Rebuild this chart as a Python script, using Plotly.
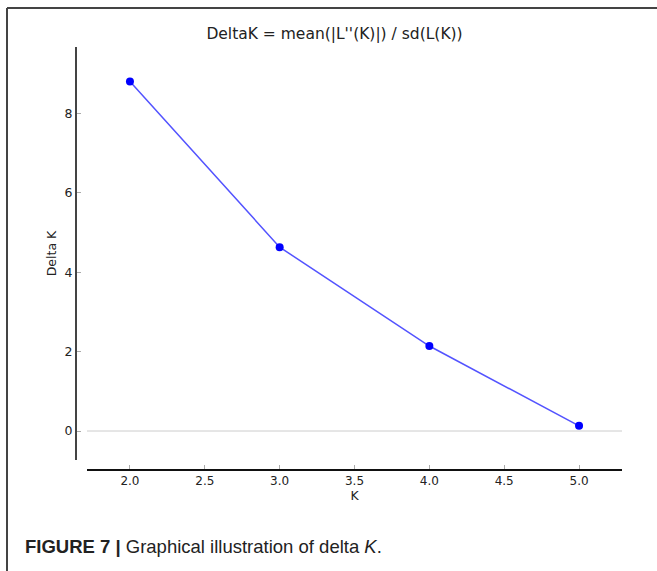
import plotly.graph_objects as go

# Data
k_values = [2, 3, 4, 5]
delta_k = [8.80, 4.63, 2.14, 0.13]
x_tick_vals = [2.0, 2.5, 3.0, 3.5, 4.0, 4.5, 5.0]
x_tick_text = ["2.0", "2.5", "3.0", "3.5", "4.0", "4.5", "5.0"]
y_tick_vals = [0, 2, 4, 6, 8]
y_tick_text = ["0", "2", "4", "6", "8"]

W, H = 657, 571
L, R, T, B = 76, 35, 47, 101
pw = W - L - R
ph = H - T - B

def px_x(x):
    return (x - L) / pw

def px_y(y):
    return (H - B - y) / ph

fig = go.Figure()

fig.add_trace(go.Scatter(
    x=k_values, y=delta_k, mode="lines",
    line=dict(color="rgba(40,40,255,0.8)", width=1.5),
    hoverinfo="skip", showlegend=False,
))
fig.add_trace(go.Scatter(
    x=k_values, y=delta_k, mode="markers",
    marker=dict(color="#0000ff", size=8),
    showlegend=False,
))

fig.add_shape(type="line", xref="x domain", yref="y", x0=0, x1=1, y0=0, y1=0,
              line=dict(color="#cccccc", width=1), layer="below")

# frame
fig.add_shape(type="line", xref="paper", yref="paper",
              x0=px_x(7), x1=px_x(W + 5), y0=px_y(8), y1=px_y(8),
              line=dict(color="#444444", width=2))
fig.add_shape(type="line", xref="paper", yref="paper",
              x0=px_x(7), x1=px_x(7), y0=px_y(8), y1=px_y(H + 5),
              line=dict(color="#444444", width=2))

font_axes = "DejaVu Sans"

fig.update_layout(
    width=W, height=H,
    margin=dict(l=L, r=R, t=T, b=B),
    paper_bgcolor="white", plot_bgcolor="white",
    title=dict(text="DeltaK = mean(|L''(K)|) / sd(L(K))",
               x=px_x(354), xanchor="center", y=1 - 34 / H, yanchor="middle",
               font=dict(family=font_axes, size=15.5, color="#222222")),
    xaxis=dict(
        range=[1.713, 5.287], domain=[px_x(87), px_x(622)],
        anchor="free", position=0,
        showline=True, linecolor="#111111", linewidth=2,
        showgrid=False, zeroline=False,
        tickmode="array", tickvals=x_tick_vals, ticktext=x_tick_text,
        ticks="inside", ticklen=4, tickcolor="#aaaaaa", tickwidth=1,
        tickfont=dict(family=font_axes, size=12, color="#222222"),
        title=dict(text="K", standoff=2, font=dict(family=font_axes, size=12.5, color="#222222")),
    ),
    yaxis=dict(
        range=[-0.73, 9.67], domain=[px_y(460), 1],
        anchor="free", position=0,
        showline=True, linecolor="#444444", linewidth=2,
        showgrid=False, zeroline=False,
        tickmode="array", tickvals=y_tick_vals, ticktext=y_tick_text,
        ticks="inside", ticklen=4, tickcolor="#aaaaaa", tickwidth=1,
        tickfont=dict(family=font_axes, size=12.5, color="#222222"),
        title=dict(text="Delta K", standoff=4, font=dict(family=font_axes, size=12.5, color="#222222")),
    ),
)

fig.add_annotation(
    xref="paper", yref="paper", x=px_x(23), y=px_y(546),
    xanchor="left", yanchor="middle", showarrow=False,
    text="<b>FIGURE 7 |</b> Graphical illustration of delta <i>K</i>.",
    font=dict(family="Liberation Sans", size=18.5, color="#222222"),
)

fig.write_html("out.html", config={"displayModeBar": False},
               post_script="document.body.style.margin='0';document.body.style.padding='0';")
